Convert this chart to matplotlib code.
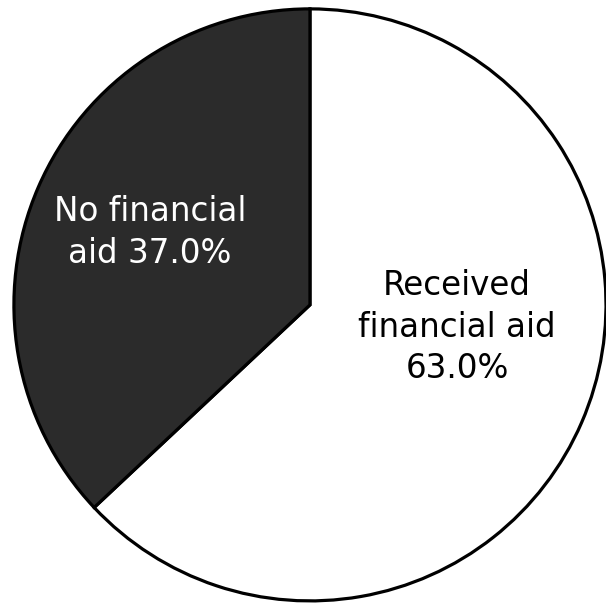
import matplotlib.pyplot as plt

labels = ["Received\nfinancial aid\n63.0%", "No financial\naid 37.0%"]
shares = [63.0, 37.0]
colors = ["#ffffff", "#2b2b2b"]
text_colors = ["#000000", "#ffffff"]
text_pos = [(0.497, -0.075), (-0.54, 0.245)]

fig = plt.figure(figsize=(6.06, 6.08), dpi=100)
ax = fig.add_axes([0, 0, 1, 1])

ax.pie(shares, colors=colors, startangle=90, counterclock=False,
       radius=1.0, center=(0, 0),
       wedgeprops=dict(edgecolor="black", linewidth=2.3))

for lab, (x, y), c in zip(labels, text_pos, text_colors):
    ax.text(x, y, lab, ha="center", va="center", multialignment="center",
            fontsize=23.5, color=c, linespacing=1.32)

ax.set_xlim(-1.047, 1.0)
ax.set_ylim(-1.024, 1.030)
ax.set_aspect("auto")
ax.axis("off")

fig.savefig("out.png", dpi=100)
